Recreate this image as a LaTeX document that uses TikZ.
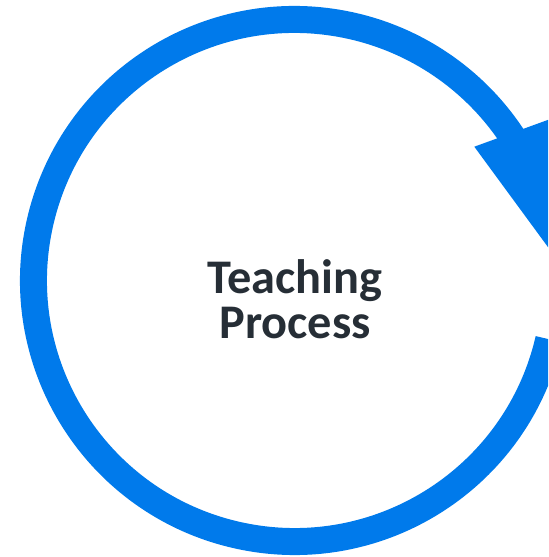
\documentclass[tikz,border=0pt]{standalone}
\usepackage{fontspec}
\setmainfont{Carlito}
\usetikzlibrary{positioning}
\definecolor{ringblue}{RGB}{0,122,235}
\definecolor{textdark}{RGB}{38,46,54}

\begin{document}
\begin{tikzpicture}[
  x = 0.02cm,
  y = 0.02cm,
  ring/.style = {
    draw = ringblue,
    line width = 0.54cm,
  },
  head/.style = {
    fill = ringblue,
  },
  title/.style = {
    align = center,
    text = textdark,
    font = \fontsize{27.5}{25.5}\selectfont\bfseries,
  },
]

  \useasboundingbox (0,0) rectangle (548,557);
  \clip (0,0) rectangle (548,557);

  \coordinate (c) at (294.5,276.5);
  \node[title] (label) at (295,258) {Teaching\\Process};

  % ring, clockwise from the lower right end
  \draw[ring] (c) ++(-13:261) arc[start angle=-13, end angle=-327, radius=261];

  \coordinate (wingin) at (474.3,410.3);
  \coordinate (wingout) at (558.9,441.1);
  \coordinate (tip) at (554.3,301.3);
  \fill[head] (wingin) -- (wingout) -- (tip) -- cycle;

\end{tikzpicture}
\end{document}
